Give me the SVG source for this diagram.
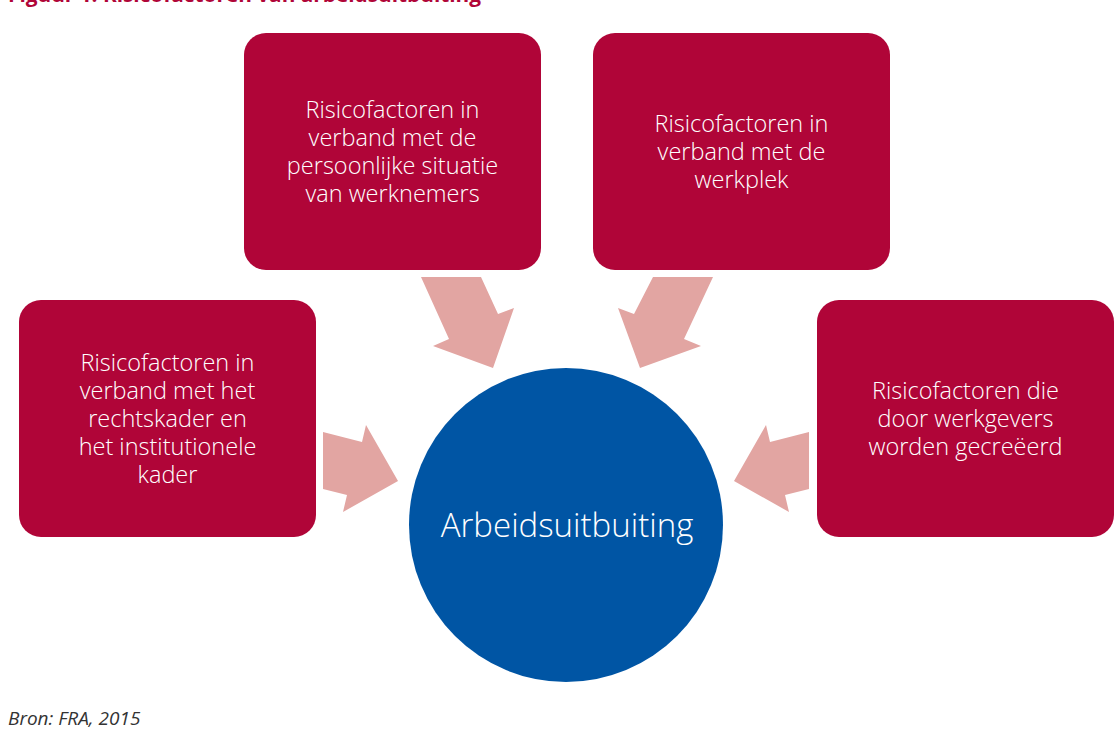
<svg xmlns="http://www.w3.org/2000/svg" width="1118" height="729" viewBox="0 0 1118 729">
<style>
.box{fill:#b00538}
.lbl{font-family:"Open Sans","Noto Sans",sans-serif;font-size:23.5px;font-weight:300;fill:#ffffff;text-anchor:middle}
.arrow{fill:#e2a5a2}
</style>
<rect width="1118" height="729" fill="#ffffff"/>
<text x="8" y="1.5" font-family="Open Sans, sans-serif" font-weight="bold" font-size="20.8" fill="#b00538">Figuur 1: Risicofactoren van arbeidsuitbuiting</text>
<g id="connectors">
<polygon class="arrow" points="421,277 481,277 498,314 514,308 493,368 433,346 449,339"/>
<polygon class="arrow" points="713,277 653,277 634,314 618,308 640,368 701,346 684,339"/>
<polygon class="arrow" points="323,432 362,442 366,425 398,481 343,512 347,495 323,489"/>
<polygon class="arrow" points="809,432 770,442 766,425 734,481 789,512 785,495 809,489"/>
</g>
<g id="node-persoonlijk">
<rect class="box" x="244" y="33" width="297" height="237" rx="22"/>
<text class="lbl" x="392.5" y="118">Risicofactoren in</text>
<text class="lbl" x="392.5" y="146">verband met de</text>
<text class="lbl" x="392.5" y="174">persoonlijke situatie</text>
<text class="lbl" x="392.5" y="202">van werknemers</text>
</g>
<g id="node-werkplek">
<rect class="box" x="593" y="33" width="297" height="237" rx="22"/>
<text class="lbl" x="741.5" y="132">Risicofactoren in</text>
<text class="lbl" x="741.5" y="160">verband met de</text>
<text class="lbl" x="741.5" y="188">werkplek</text>
</g>
<g id="node-rechtskader">
<rect class="box" x="19" y="300" width="297" height="237" rx="22"/>
<text class="lbl" x="167.5" y="371">Risicofactoren in</text>
<text class="lbl" x="167.5" y="399">verband met het</text>
<text class="lbl" x="167.5" y="427">rechtskader en</text>
<text class="lbl" x="167.5" y="455">het institutionele</text>
<text class="lbl" x="167.5" y="483">kader</text>
</g>
<g id="node-werkgevers">
<rect class="box" x="817" y="300" width="297" height="237" rx="22"/>
<text class="lbl" x="965.5" y="399">Risicofactoren die</text>
<text class="lbl" x="965.5" y="427">door werkgevers</text>
<text class="lbl" x="965.5" y="455">worden gecreëerd</text>
</g>
<g id="node-center">
<circle cx="566" cy="525" r="157" fill="#0055a4"/>
<text x="567" y="537" font-family="Open Sans, Noto Sans, sans-serif" font-weight="300" font-size="33" fill="#ffffff" text-anchor="middle">Arbeidsuitbuiting</text>
</g>
<text x="8" y="725" font-family="Open Sans, sans-serif" font-style="italic" font-size="19" fill="#333333">Bron: FRA, 2015</text>
</svg>
